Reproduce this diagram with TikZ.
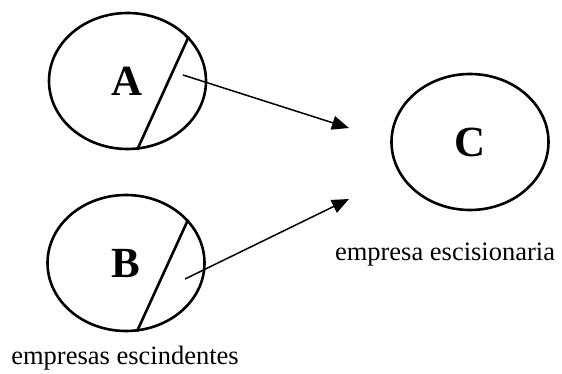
\documentclass[tikz,border=0pt]{standalone}
\usepackage{fontspec}
\setmainfont{Liberation Serif}
\usetikzlibrary{shapes.geometric,arrows.meta}

\begin{document}
\begin{tikzpicture}[x=1pt,y=-1pt]
  \tikzstyle{firma}=[ellipse,draw,line width=2.6pt,minimum width=157pt,minimum height=136pt,inner sep=0pt,font=\fontsize{43}{50}\selectfont\bfseries]
  \tikzstyle{corte}=[line width=2.6pt]
  \tikzstyle{flecha}=[line width=1.5pt,-{Triangle[length=17pt,width=14pt]}]
  \tikzstyle{rotulo}=[anchor=base,inner sep=0pt,font=\fontsize{26.5}{30}\selectfont]
  \useasboundingbox (0,0) rectangle (562,374);
  \node[firma] (A) at (127.5,81) {A};
  \node[firma] (B) at (126,263) {B};
  \node[firma] (C) at (470,142) {C};
  \draw[corte] (A.36) -- (A.-82);
  \draw[corte] (B.35) -- (B.-81);
  \coordinate (a-out) at (183,75);
  \coordinate (b-out) at (185,279);
  \coordinate (c-in1) at (349,128);
  \coordinate (c-in2) at (349,199);
  \draw[flecha] (a-out) -- (c-in1);
  \draw[flecha] (b-out) -- (c-in2);
  \node[rotulo] (escindentes) at (125,364) {empresas escindentes};
  \node[rotulo] (escisionaria) at (445,260) {empresa escisionaria};
\end{tikzpicture}
\end{document}
